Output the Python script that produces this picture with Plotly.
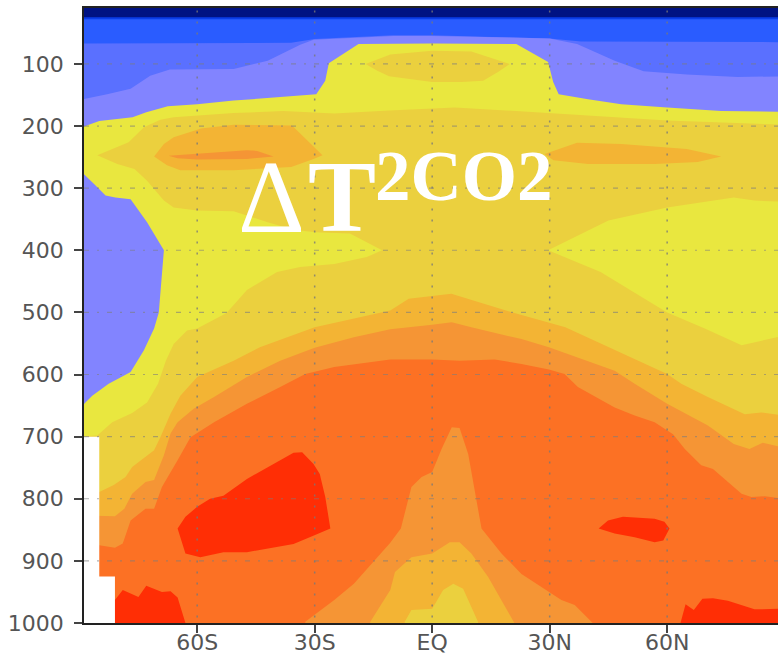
import plotly.graph_objects as go

# Pressure / latitude axis ticks
lat_ticks = [-60, -30, 0, 30, 60]
lat_labels = ["60S", "30S", "EQ", "30N", "60N"]
p_ticks = [100, 200, 300, 400, 500, 600, 700, 800, 900, 1000]
p_labels = ["100", "200", "300", "400", "500", "600", "700", "800", "900", "1000"]

# Contour band outlines: latitude (deg), pressure (hPa)
navy_lat = [-90, 90, 90, -90]
navy_p = [10, 10, 1000, 1000]

deep_lat = [-90, 90, 90, -90]
deep_p = [25, 25, 1000, 1000]

blue_lat = [-90, 90, 90, -90]
blue_p = [28, 28, 1000, 1000]

mid_lat = [-90, -36, -30, -10, 0, 30, 38, 90, 90, -90]
mid_p = [67, 66, 60, 54, 54, 59, 64, 65, 1000, 1000]

peri_lat = [-90, -83, -77, -72, -67, -60, -50.7, -42, -33.7, -30.3, -10, 0, 30, 37, 46.6, 54, 65, 78, 90, 90, -90]
peri_p = [158, 149, 140, 119, 109, 109, 108, 95, 69, 61, 55, 55, 59, 68, 95, 112, 117, 121, 120, 1000, 1000]

yellow_lat = [-90, -85, -76.5, -73, -67.5, -60, -50.7, -42, -29.6, -27.3, -26.4, -18.8, 0, 21.5, 29.6, 30.9, 32.3, 39.8, 48.3, 60, 73.8, 90, 90, -90]
yellow_p = [203, 192, 186, 178, 168, 165, 159, 155, 149, 127, 99, 68, 67, 68, 97, 129, 149, 157, 165, 170, 176, 177, 1000, 1000]

peri_blob_lat = [-90, -89, -86.4, -83.4, -80.9, -77, -72.8, -68.5, -69.8, -71, -73.6, -77, -79.6, -82.6, -86.8, -89, -90]
peri_blob_p = [277, 277, 293, 312, 315, 318, 355, 400, 500, 526, 561, 596, 605, 615, 634, 648, 648]

gold_lat = [-85.5, -80.4, -77.5, -73.6, -69.4, -66, -50.7, -38, -25, -11, 5.8, 29.6, 60, 90,
            90, 82.3, 77, 60, 45, 29.6, 43, 60, 69.6, 79, 90, 90, -90, -90,
            -85.5, -81.7, -76.6, -72.8, -70, -68, -66, -62.6, -60, -52.5, -47.3, -39.6, -33.7, -25, -16.7, -12.8,
            -21, -29.8, -35.4, -42, -50.7, -60, -66, -68.5, -72.8, -76, -80.4]
gold_p = [247, 233, 226, 202, 190, 186, 179, 176, 180, 175, 170, 179, 191, 198,
          322, 320, 315, 331, 352, 400, 435, 500, 526, 553, 537, 1000, 1000, 700,
          698, 677, 662, 645, 615, 578, 551, 529, 526, 501, 464, 435, 427, 422, 411, 400,
          373, 371, 367, 355, 337, 336, 331, 320, 288, 269, 261]

gold_top_lat = [-17, -10.7, 0, 10, 19.8, 16.8, 13, 7.5, 0, -11, -14]
gold_top_p = [100, 85, 79, 80, 100, 113, 127, 129, 129, 120, 111]

amber_sh_lat = [-71, -68.5, -66, -59, -50.7, -35.8, -28, -30.3, -36, -50.7, -64.3, -67.7]
amber_sh_p = [249, 229, 218, 204, 198, 199, 247, 253, 266, 271, 271, 263]

amber_nh_lat = [28.7, 37, 48.3, 65, 73.8, 67.8, 56.8, 39.8, 31]
amber_nh_p = [245, 227, 229, 237, 249, 258, 261, 261, 255]

amber_lat = [-90, -85, -81.3, -78.3, -76.6, -71, -69.4, -66.8, -64.3, -60, -50.7, -44, -30, -10.7, -6, 4.9, 21, 34, 60, 63.6, 70.4, 79.8, 84, 90, 90, -90]
amber_p = [789, 789, 778, 765, 749, 722, 701, 663, 634, 604, 578, 556, 524, 497, 478, 470, 501, 524, 599, 615, 636, 664, 661, 666, 1000, 1000]

tang_sliver_lat = [-67.3, -60, -47.3, -44.7, -40.5, -47.3, -60, -65]
tang_sliver_p = [248, 245, 239, 240, 249, 253, 254, 252]

tang_lat = [-90, -85, -81, -78.6, -76.6, -73.2, -71, -68.5, -66.8, -65, -60.9, -55.7, -47.3, -38.8, -30, -20, -10.7, 0, 5, 10, 22.8, 29.8, 38, 46.6, 51.7, 60, 70.4, 77, 81, 84.4, 90, 90, -90]
tang_p = [827, 827, 828, 816, 792, 773, 770, 730, 695, 677, 655, 636, 604, 578, 557, 540, 527, 520, 516, 524, 543, 556, 575, 594, 615, 647, 682, 712, 720, 710, 718, 1000, 1000]

orange_lat = [-90, -85, -81, -79, -77, -73.2, -71, -69, -65, -61.7, -55.7, -47.3, -38.8, -32.4, -25, -10.7, 0, 7, 16, 22.8, 29.8, 33.8, 37.2, 46.6, 51.7, 56.8, 61.5, 64.5, 68.7, 71.7, 79, 81.5, 84.9, 90, 90, -90]
orange_p = [875, 875, 879, 872, 835, 816, 816, 781, 738, 701, 677, 647, 620, 599, 588, 576, 576, 578, 576, 583, 592, 599, 620, 653, 666, 677, 696, 720, 746, 752, 792, 797, 796, 800, 1000, 1000]

tropic_tang_lat = [-32.4, -25, -20, -14, -10.7, -8, -5.3, -2.7, 0, 2.4, 5, 7, 9.2, 12.6, 17.7, 22.8, 29.8, 33, 36.4, 41, 41, -32.4]
tropic_tang_p = [998, 963, 937, 894, 871, 848, 781, 765, 757, 720, 685, 686, 728, 848, 888, 921, 950, 963, 971, 1000, 1010, 1010]

tropic_amber_lat = [-15.8, -10.7, -9.5, -5.3, 0, 4.5, 7, 10, 14.3, 21, 21, -15.8]
tropic_amber_p = [998, 947, 918, 894, 888, 870, 870, 888, 926, 1000, 1010, 1010]

tropic_gold_lat = [-7, -5.3, 0, 2.8, 5.4, 7.9, 11.7, 11.7, -7]
tropic_gold_p = [998, 979, 977, 947, 937, 945, 998, 1010, 1010]

red_big_lat = [-65, -63, -60, -56.7, -53.3, -47.3, -35.4, -33.2, -30.3, -28.7, -27.3, -26, -30.2, -35.4, -47.3, -53.3, -59.2, -63]
red_big_p = [848, 829, 813, 800, 795, 768, 726, 725, 744, 760, 797, 848, 859, 873, 886, 886, 894, 888]

red_sh_lat = [-81, -79, -75, -73, -69, -66.8, -65, -63, -63, -81]
red_sh_p = [963, 947, 958, 940, 950, 949, 959, 1000, 1010, 1010]

red_mid_lat = [42.5, 44.9, 48.7, 56.8, 59.3, 60.6, 59, 56.8, 51.7, 46.6]
red_mid_p = [848, 835, 829, 832, 837, 848, 867, 870, 862, 856]

red_nh_lat = [63.4, 64.7, 66.8, 69, 71.7, 75.5, 82.3, 90, 90, 63.4]
red_nh_p = [1000, 970, 979, 961, 960, 964, 978, 977, 1010, 1010]

nodata_lat = [-90, -85, -85, -81, -81, -90]
nodata_p = [700, 700, 925, 925, 1010, 1010]

NAVY = "#001283"
DEEP = "#0a3ce8"
BLUE = "#2a5cff"
MID = "#5a70ff"
PERI = "#8284ff"
YELLOW = "#e9e73f"
GOLD = "#ebd03e"
AMBER = "#f3b434"
TANG = "#f59535"
ORANGE = "#fc7124"
RED = "#ff2e05"

layers = [
    (navy_lat, navy_p, NAVY), (deep_lat, deep_p, DEEP), (blue_lat, blue_p, BLUE),
    (mid_lat, mid_p, MID), (peri_lat, peri_p, PERI), (yellow_lat, yellow_p, YELLOW),
    (peri_blob_lat, peri_blob_p, PERI), (gold_lat, gold_p, GOLD), (gold_top_lat, gold_top_p, GOLD),
    (amber_sh_lat, amber_sh_p, AMBER), (amber_nh_lat, amber_nh_p, AMBER), (amber_lat, amber_p, AMBER),
    (tang_sliver_lat, tang_sliver_p, TANG), (tang_lat, tang_p, TANG), (orange_lat, orange_p, ORANGE),
    (tropic_tang_lat, tropic_tang_p, TANG), (tropic_amber_lat, tropic_amber_p, AMBER),
    (tropic_gold_lat, tropic_gold_p, GOLD), (red_big_lat, red_big_p, RED), (red_sh_lat, red_sh_p, RED),
    (red_mid_lat, red_mid_p, RED), (red_nh_lat, red_nh_p, RED), (nodata_lat, nodata_p, "#ffffff"),
]

fig = go.Figure()
for xs, ys, col in layers:
    fig.add_trace(go.Scatter(x=xs, y=ys, mode="lines", fill="toself", fillcolor=col,
                             line=dict(width=0, color=col), hoverinfo="skip", showlegend=False))

for lat in lat_ticks:
    fig.add_shape(type="line", xref="x", yref="y", x0=lat, x1=lat, y0=14, y1=1000, layer="above",
                  line=dict(color="rgba(120,120,120,0.8)", width=1.5, dash="2px,9px"))
for p in p_ticks[:-1]:
    fig.add_shape(type="line", xref="x", yref="y", x0=-88.9, x1=88.3, y0=p, y1=p, layer="above",
                  line=dict(color="rgba(125,125,125,0.6)", width=1.2, dash="5px,8px,2px,8px"))


def paper_x(px):
    return (px - 84) / 694


def paper_y(py):
    return 1 - (py - 8) / 615


fig.add_annotation(text="Δ", xref="paper", yref="paper", x=paper_x(236), y=paper_y(232),
                   xanchor="left", yanchor="bottom", showarrow=False, yshift=-24,
                   font=dict(family="Liberation Serif", size=104, color="white"))
fig.add_annotation(text="<b>T</b>", xref="paper", yref="paper", x=paper_x(306), y=paper_y(232),
                   xanchor="left", yanchor="bottom", showarrow=False, yshift=-23,
                   font=dict(family="Liberation Serif", size=102, color="white"))
fig.add_annotation(text="<b>2CO2</b>", xref="paper", yref="paper", x=paper_x(373), y=paper_y(200),
                   xanchor="left", yanchor="bottom", showarrow=False, yshift=-17,
                   font=dict(family="Liberation Serif", size=71, color="white"))

axis_font = dict(family="DejaVu Sans", size=22, color="#555555")
fig.update_xaxes(range=[-88.9, 88.3], tickvals=lat_ticks, ticktext=lat_labels, showgrid=False, zeroline=False,
                 ticks="outside", ticklen=8, tickwidth=1.5, tickcolor="#444444", showline=True, linecolor="#222222",
                 linewidth=1.5, mirror=True, tickfont=axis_font, tickangle=0, automargin=False, ticklabelstandoff=-9)
fig.update_yaxes(range=[1000, 10], tickvals=p_ticks, ticktext=p_labels, showgrid=False, zeroline=False,
                 ticks="outside", ticklen=8, tickwidth=1.5, tickcolor="#444444", showline=True, linecolor="#222222",
                 linewidth=1.5, tickfont=axis_font, automargin=False, ticklabelstandoff=6)
fig.update_layout(width=778, height=657, margin=dict(l=84, r=0, t=8, b=34), paper_bgcolor="white",
                  plot_bgcolor="white", showlegend=False)
fig.write_html("out.html", post_script="document.body.style.margin='0';", config={"displayModeBar": False})
